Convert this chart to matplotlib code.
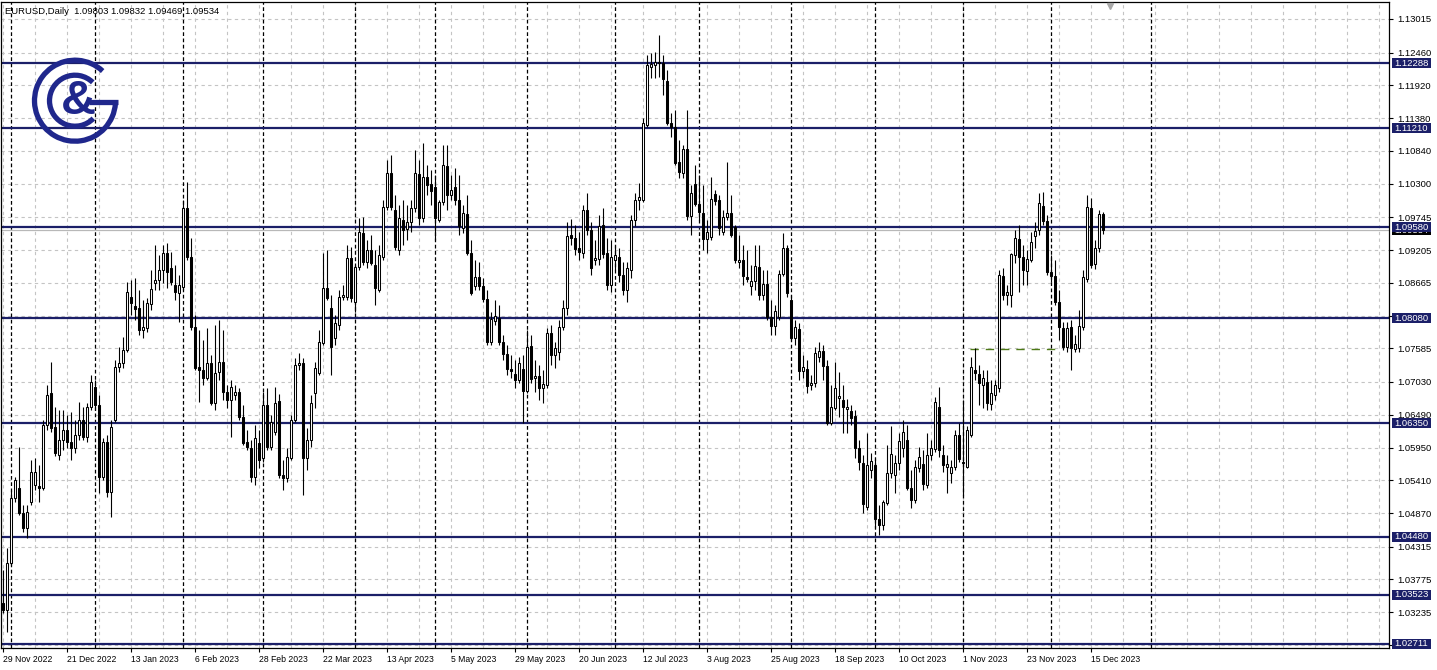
import matplotlib
matplotlib.use('Agg')
import matplotlib.pyplot as plt
import matplotlib.transforms as mtransforms
from matplotlib.patches import Rectangle, Arc
import numpy as np

plt.rcParams['font.family'] = ['Liberation Sans', 'DejaVu Sans']

# ---------------- data (EURUSD daily) ----------------
opens = [
1.0339, 1.0327, 1.0405, 1.0512, 1.0528, 1.0487, 1.0462, 1.0505, 1.0533, 1.0532,
1.0528, 1.0632, 1.0685, 1.0629, 1.0583, 1.0607, 1.0624, 1.0604, 1.0594, 1.0616,
1.0640, 1.0612, 1.0662, 1.0695, 1.0665, 1.0546, 1.0604, 1.0522, 1.0640, 1.0728,
1.0734, 1.0756, 1.0843, 1.0828, 1.0825, 1.0789, 1.0792, 1.0832, 1.0866, 1.0871,
1.0888, 1.0916, 1.0891, 1.0863, 1.0850, 1.0860, 1.0990, 1.0909, 1.0794, 1.0728,
1.0723, 1.0710, 1.0734, 1.0668, 1.0720, 1.0736, 1.0686, 1.0673, 1.0682, 1.0686,
1.0645, 1.0604, 1.0594, 1.0546, 1.0602, 1.0578, 1.0665, 1.0596, 1.0621, 1.0671,
1.0550, 1.0545, 1.0578, 1.0640, 1.0731, 1.0734, 1.0578, 1.0607, 1.0685, 1.0718,
1.0767, 1.0858, 1.0825, 1.0776, 1.0797, 1.0843, 1.0843, 1.0907, 1.0835, 1.0893,
1.0949, 1.0901, 1.0921, 1.0896, 1.0855, 1.0909, 1.0992, 1.1047, 1.0987, 1.0921,
1.0970, 1.0955, 1.0967, 1.0990, 1.1046, 1.0973, 1.1041, 1.1029, 1.1024, 1.0970,
1.1000, 1.1059, 1.1011, 1.1024, 1.1003, 1.0957, 1.0980, 1.0916, 1.0861, 1.0876,
1.0861, 1.0840, 1.0769, 1.0804, 1.0808, 1.0769, 1.0749, 1.0724, 1.0716, 1.0706,
1.0724, 1.0688, 1.0762, 1.0710, 1.0713, 1.0693, 1.0698, 1.0784, 1.0747, 1.0752,
1.0794, 1.0825, 1.0945, 1.0940, 1.0924, 1.0916, 1.0987, 1.0954, 1.0904, 1.0906,
1.0962, 1.0916, 1.0863, 1.0904, 1.0909, 1.0879, 1.0855, 1.0888, 1.0970, 1.1003,
1.1003, 1.1127, 1.1222, 1.1226, 1.1231, 1.1229, 1.1199, 1.1130, 1.1124, 1.1066,
1.1047, 1.1087, 1.0977, 1.1029, 1.0997, 1.0981, 1.0939, 1.0942, 1.1013, 1.1003,
1.0950, 1.0975, 1.0981, 1.0958, 1.0901, 1.0904, 1.0876, 1.0861, 1.0869, 1.0893,
1.0846, 1.0865, 1.0810, 1.0795, 1.0810, 1.0881, 1.0924, 1.0838, 1.0776, 1.0791,
1.0721, 1.0724, 1.0698, 1.0701, 1.0744, 1.0754, 1.0729, 1.0635, 1.0660, 1.0677,
1.0673, 1.0659, 1.0655, 1.0647, 1.0594, 1.0569, 1.0497, 1.0558, 1.0566, 1.0477,
1.0467, 1.0503, 1.0553, 1.0550, 1.0570, 1.0594, 1.0607, 1.0528, 1.0508, 1.0561,
1.0568, 1.0533, 1.0583, 1.0593, 1.0662, 1.0583, 1.0563, 1.0553, 1.0563, 1.0616,
1.0571, 1.0563, 1.0616, 1.0723, 1.0716, 1.0698, 1.0703, 1.0667, 1.0682, 1.0693,
1.0878, 1.0846, 1.0846, 1.0912, 1.0939, 1.0909, 1.0886, 1.0904, 1.0944, 1.0954,
1.0993, 1.0968, 1.0884, 1.0878, 1.0835, 1.0792, 1.0761, 1.0794, 1.0757, 1.0759,
1.0794, 1.0873, 1.0990, 1.0897, 1.0924, 1.09803]

highs = [
1.0393, 1.0429, 1.0525, 1.0546, 1.0596, 1.0500, 1.0500, 1.0574, 1.0578, 1.0566,
1.0640, 1.0698, 1.0736, 1.0662, 1.0657, 1.0657, 1.0649, 1.0654, 1.0640, 1.0670,
1.0662, 1.0668, 1.0715, 1.0706, 1.0682, 1.0611, 1.0616, 1.0640, 1.0739, 1.0761,
1.0777, 1.0868, 1.0871, 1.0874, 1.0855, 1.0838, 1.0842, 1.0888, 1.0929, 1.0912,
1.0929, 1.0932, 1.0917, 1.0896, 1.0879, 1.1003, 1.1033, 1.0940, 1.0813, 1.0789,
1.0772, 1.0792, 1.0747, 1.0797, 1.0805, 1.0789, 1.0698, 1.0706, 1.0698, 1.0693,
1.0665, 1.0624, 1.0607, 1.0632, 1.0624, 1.0686, 1.0693, 1.0649, 1.0695, 1.0684,
1.0574, 1.0594, 1.0649, 1.0742, 1.0751, 1.0742, 1.0627, 1.0682, 1.0736, 1.0789,
1.0916, 1.0921, 1.0846, 1.0813, 1.0855, 1.0863, 1.0929, 1.0926, 1.0896, 1.0973,
1.0975, 1.0937, 1.0945, 1.0921, 1.0929, 1.1003, 1.1069, 1.1077, 1.1011, 1.0995,
1.1003, 1.0995, 1.1003, 1.1086, 1.1069, 1.1097, 1.1061, 1.1053, 1.1044, 1.1003,
1.1094, 1.1094, 1.1044, 1.1056, 1.1044, 1.0995, 1.1011, 1.0937, 1.0904, 1.0901,
1.0874, 1.0855, 1.0818, 1.0838, 1.0830, 1.0780, 1.0764, 1.0747, 1.0739, 1.0744,
1.0747, 1.0789, 1.0780, 1.0739, 1.0731, 1.0723, 1.0792, 1.0797, 1.0769, 1.0805,
1.0838, 1.0967, 1.0972, 1.0962, 1.0950, 1.0995, 1.1015, 1.0967, 1.0937, 1.0978,
1.0990, 1.0940, 1.0937, 1.0929, 1.0924, 1.0901, 1.0901, 1.0978, 1.1015, 1.1031,
1.1138, 1.1242, 1.1245, 1.1247, 1.1275, 1.1242, 1.1217, 1.1147, 1.1151, 1.1102,
1.1094, 1.1151, 1.1028, 1.1061, 1.1044, 1.1028, 1.0970, 1.1041, 1.1020, 1.1011,
1.0987, 1.1066, 1.1011, 1.0962, 1.0945, 1.0929, 1.0921, 1.0896, 1.0929, 1.0929,
1.0888, 1.0888, 1.0838, 1.0830, 1.0888, 1.0948, 1.0929, 1.0846, 1.0805, 1.0800,
1.0747, 1.0739, 1.0715, 1.0761, 1.0769, 1.0764, 1.0739, 1.0698, 1.0736, 1.0720,
1.0698, 1.0675, 1.0665, 1.0657, 1.0607, 1.0583, 1.0619, 1.0586, 1.0578, 1.0500,
1.0508, 1.0599, 1.0630, 1.0583, 1.0619, 1.0640, 1.0632, 1.0558, 1.0574, 1.0596,
1.0591, 1.0619, 1.0607, 1.0678, 1.0695, 1.0599, 1.0583, 1.0574, 1.0624, 1.0636,
1.0673, 1.0630, 1.0744, 1.0759, 1.0731, 1.0723, 1.0723, 1.0706, 1.0706, 1.0888,
1.0891, 1.0863, 1.0916, 1.0954, 1.0962, 1.0929, 1.0921, 1.0950, 1.0967, 1.1015,
1.1016, 1.0978, 1.0912, 1.0904, 1.0855, 1.0802, 1.0802, 1.0805, 1.0780, 1.0822,
1.0888, 1.1011, 1.1006, 1.0937, 1.0987, 1.09832]

lows = [
1.0322, 1.0291, 1.0401, 1.0505, 1.0484, 1.0456, 1.0446, 1.0500, 1.0525, 1.0505,
1.0525, 1.0624, 1.0621, 1.0581, 1.0574, 1.0591, 1.0594, 1.0574, 1.0586, 1.0607,
1.0607, 1.0604, 1.0657, 1.0657, 1.0520, 1.0541, 1.0513, 1.0480, 1.0637, 1.0720,
1.0726, 1.0752, 1.0813, 1.0805, 1.0780, 1.0776, 1.0786, 1.0822, 1.0855, 1.0855,
1.0866, 1.0858, 1.0863, 1.0838, 1.0802, 1.0855, 1.0904, 1.0789, 1.0723, 1.0670,
1.0698, 1.0706, 1.0665, 1.0657, 1.0706, 1.0673, 1.0660, 1.0612, 1.0673, 1.0640,
1.0599, 1.0591, 1.0538, 1.0533, 1.0561, 1.0571, 1.0591, 1.0591, 1.0616, 1.0545,
1.0525, 1.0538, 1.0574, 1.0637, 1.0723, 1.0517, 1.0558, 1.0596, 1.0660, 1.0715,
1.0764, 1.0838, 1.0715, 1.0764, 1.0789, 1.0838, 1.0838, 1.0835, 1.0818, 1.0888,
1.0896, 1.0891, 1.0896, 1.0830, 1.0851, 1.0904, 1.0987, 1.0987, 1.0921, 1.0912,
1.0929, 1.0937, 1.0950, 1.0983, 1.0962, 1.0967, 1.1011, 1.0995, 1.0937, 1.0967,
1.0995, 1.0987, 1.1003, 1.0995, 1.0945, 1.0949, 1.0912, 1.0846, 1.0855, 1.0855,
1.0835, 1.0764, 1.0764, 1.0797, 1.0764, 1.0739, 1.0715, 1.0710, 1.0693, 1.0701,
1.0635, 1.0685, 1.0701, 1.0686, 1.0673, 1.0668, 1.0693, 1.0731, 1.0726, 1.0739,
1.0789, 1.0813, 1.0929, 1.0912, 1.0904, 1.0907, 1.0945, 1.0879, 1.0896, 1.0896,
1.0907, 1.0855, 1.0851, 1.0888, 1.0868, 1.0846, 1.0835, 1.0874, 1.0960, 1.0987,
1.1000, 1.1123, 1.1204, 1.1204, 1.1206, 1.1176, 1.1127, 1.1107, 1.1060, 1.1039,
1.1039, 1.0970, 1.0945, 1.0993, 1.0970, 1.0921, 1.0916, 1.0937, 1.0995, 1.0945,
1.0945, 1.0970, 1.0942, 1.0899, 1.0891, 1.0863, 1.0868, 1.0846, 1.0855, 1.0838,
1.0838, 1.0805, 1.0780, 1.0780, 1.0805, 1.0877, 1.0843, 1.0772, 1.0764, 1.0706,
1.0710, 1.0685, 1.0690, 1.0695, 1.0736, 1.0706, 1.0632, 1.0632, 1.0657, 1.0645,
1.0619, 1.0619, 1.0632, 1.0578, 1.0558, 1.0487, 1.0492, 1.0545, 1.0462, 1.0451,
1.0459, 1.0500, 1.0545, 1.0520, 1.0558, 1.0579, 1.0525, 1.0495, 1.0503, 1.0555,
1.0525, 1.0528, 1.0574, 1.0588, 1.0579, 1.0555, 1.0520, 1.0537, 1.0558, 1.0571,
1.0517, 1.0561, 1.0612, 1.0706, 1.0665, 1.0660, 1.0657, 1.0657, 1.0673, 1.0686,
1.0838, 1.0830, 1.0827, 1.0899, 1.0851, 1.0863, 1.0863, 1.0901, 1.0924, 1.0945,
1.0962, 1.0879, 1.0868, 1.0830, 1.0772, 1.0756, 1.0752, 1.0723, 1.0752, 1.0752,
1.0789, 1.0868, 1.0891, 1.0889, 1.0917, 1.09469]

closes = [
1.0327, 1.0405, 1.0512, 1.0541, 1.0487, 1.0462, 1.0489, 1.0555, 1.0555, 1.0528,
1.0632, 1.0682, 1.0627, 1.0586, 1.0607, 1.0624, 1.0604, 1.0594, 1.0616, 1.0640,
1.0612, 1.0662, 1.0703, 1.0665, 1.0546, 1.0604, 1.0522, 1.0629, 1.0728, 1.0734,
1.0756, 1.0851, 1.0833, 1.0823, 1.0789, 1.0794, 1.0833, 1.0856, 1.0871, 1.0888,
1.0916, 1.0884, 1.0868, 1.0851, 1.0863, 1.0990, 1.0909, 1.0794, 1.0726, 1.0723,
1.0710, 1.0734, 1.0668, 1.0718, 1.0736, 1.0686, 1.0673, 1.0695, 1.0686, 1.0645,
1.0602, 1.0596, 1.0546, 1.0611, 1.0574, 1.0665, 1.0596, 1.0637, 1.0668, 1.0550,
1.0545, 1.0579, 1.0640, 1.0731, 1.0734, 1.0578, 1.0607, 1.0668, 1.0726, 1.0769,
1.0858, 1.0842, 1.0761, 1.0800, 1.0843, 1.0846, 1.0907, 1.0842, 1.0893, 1.0950,
1.0901, 1.0921, 1.0899, 1.0858, 1.0912, 1.0992, 1.1047, 1.0992, 1.0925, 1.0973,
1.0954, 1.0967, 1.0990, 1.1047, 1.0973, 1.1041, 1.1028, 1.1018, 1.0973, 1.1000,
1.1061, 1.1011, 1.1020, 1.1003, 1.0960, 1.0981, 1.0916, 1.0850, 1.0876, 1.0861,
1.0840, 1.0769, 1.0807, 1.0812, 1.0769, 1.0749, 1.0724, 1.0721, 1.0706, 1.0734,
1.0688, 1.0761, 1.0708, 1.0713, 1.0693, 1.0700, 1.0784, 1.0747, 1.0759, 1.0794,
1.0825, 1.0944, 1.0940, 1.0922, 1.0917, 1.0987, 1.0954, 1.0891, 1.0907, 1.0960,
1.0914, 1.0863, 1.0909, 1.0912, 1.0879, 1.0855, 1.0891, 1.0970, 1.1003, 1.1008,
1.1130, 1.1226, 1.1227, 1.1231, 1.1229, 1.1203, 1.1130, 1.1124, 1.1064, 1.1049,
1.1087, 1.0977, 1.1015, 1.0997, 1.0983, 1.0939, 1.0950, 1.1005, 1.1001, 1.0957,
1.0975, 1.0981, 1.0945, 1.0904, 1.0904, 1.0878, 1.0873, 1.0869, 1.0894, 1.0846,
1.0865, 1.0810, 1.0795, 1.0820, 1.0881, 1.0924, 1.0850, 1.0776, 1.0794, 1.0721,
1.0728, 1.0696, 1.0701, 1.0751, 1.0754, 1.0729, 1.0635, 1.0662, 1.0693, 1.0680,
1.0662, 1.0662, 1.0644, 1.0594, 1.0571, 1.0502, 1.0566, 1.0573, 1.0477, 1.0467,
1.0505, 1.0553, 1.0584, 1.0570, 1.0606, 1.0621, 1.0528, 1.0508, 1.0563, 1.0579,
1.0535, 1.0583, 1.0594, 1.0670, 1.0591, 1.0566, 1.0568, 1.0563, 1.0616, 1.0576,
1.0569, 1.0624, 1.0728, 1.0718, 1.0701, 1.0710, 1.0668, 1.0685, 1.0698, 1.0879,
1.0846, 1.0851, 1.0914, 1.0940, 1.0909, 1.0888, 1.0906, 1.0934, 1.0952, 1.0998,
1.0968, 1.0884, 1.0878, 1.0835, 1.0794, 1.0761, 1.0792, 1.0759, 1.0766, 1.0795,
1.0876, 1.0992, 1.0896, 1.0924, 1.0980, 1.09534]

assert len(opens) == len(highs) == len(lows) == len(closes)

date_labels = ['29 Nov 2022', '21 Dec 2022', '13 Jan 2023', '6 Feb 2023', '28 Feb 2023',
               '22 Mar 2023', '13 Apr 2023', '5 May 2023', '29 May 2023', '20 Jun 2023',
               '12 Jul 2023', '3 Aug 2023', '25 Aug 2023', '18 Sep 2023', '10 Oct 2023',
               '1 Nov 2023', '23 Nov 2023', '15 Dec 2023']
label_bars = list(range(0, 16 * len(date_labels), 16))

month_start_bars = [2, 23, 45, 65, 88, 108, 131, 153, 174, 197, 218, 240, 262, 287]

grid_prices = [1.13015, 1.12460, 1.11920, 1.11380, 1.10840, 1.10300, 1.09745, 1.09205,
               1.08665, 1.08125, 1.07585, 1.07030, 1.06490, 1.05950, 1.05410, 1.04870,
               1.04315, 1.03775, 1.03235, 1.02695]
hidden_tick_labels = [1.08125, 1.02695]

levels = [1.12288, 1.11210, 1.09580, 1.08080, 1.06350, 1.04480, 1.03523, 1.02711]
current_price = 1.09534
trend_price = 1.0757
trend_start_bar, trend_end_bar = 241.8, 264.3

header = "EURUSD,Daily  1.09803 1.09832 1.09469 1.09534"

# ---------------- figure ----------------
W, H = 1437, 670
fig = plt.figure(figsize=(W / 100, H / 100), dpi=100)
fig.patch.set_facecolor('white')

ax_left, ax_right, ax_top, ax_bottom = 1, 1389, 2, 648
ax = fig.add_axes([ax_left / W, (H - ax_bottom) / H,
                   (ax_right - ax_left) / W, (ax_bottom - ax_top) / H])
ax.set_facecolor('white')

ymin, ymax = 1.026444, 1.13295
ax.set_ylim(ymin, ymax)
ax.set_xlim(-0.43, 346.6)
px_price = (ymax - ymin) / (ax_bottom - ax_top)
px_axes_x = 1.0 / (ax_right - ax_left)

GRID_C = '#c4c4c4'
for p in grid_prices:
    ax.axhline(p, color=GRID_C, lw=0.8, ls=(0, (3, 3)), zorder=1)
for b in range(0, 347, 8):
    ax.axvline(b, color=GRID_C, lw=0.8, ls=(0, (3, 3)), zorder=1)
for b in month_start_bars:
    ax.axvline(b, color='black', lw=0.9, ls=(0, (3, 2)), zorder=1.5)

LEVEL_C = '#1b1f68'
for lv in levels:
    ax.axhline(lv, color=LEVEL_C, lw=1.6, zorder=2)
ax.axhline(current_price, color='#b8b8b8', lw=0.9, zorder=1.8)

ax.hlines(trend_price, trend_start_bar, trend_end_bar, colors='#4d7a16',
          linestyles=(0, (6, 5)), lw=1.0, zorder=2.2)

# candles
o = np.array(opens); c = np.array(closes); h = np.array(highs); l = np.array(lows)
x = np.arange(len(c))
up = c >= o
ax.vlines(x, l, h, color='black', lw=0.8, zorder=3)
bot = np.minimum(o, c)
hgt = np.abs(c - o)
ax.bar(x[up], hgt[up], bottom=bot[up], width=0.52, color='white',
       edgecolor='black', linewidth=0.75, zorder=4)
ax.bar(x[~up], hgt[~up], bottom=bot[~up], width=0.52, color='black',
       edgecolor='black', linewidth=0.75, zorder=4)

for s in ax.spines.values():
    s.set_color('black')
    s.set_linewidth(0.9)

ax.yaxis.tick_right()
ax.set_yticks(grid_prices)
ax.set_yticklabels(['' if p in hidden_tick_labels else f'{p:.5f}' for p in grid_prices])
ax.tick_params(axis='y', length=3, width=0.8, pad=3, labelsize=6.8, colors='black')

ax.set_xticks(label_bars)
ax.set_xticklabels(date_labels)
ax.tick_params(axis='x', length=3, width=0.8, pad=2, labelsize=6.2, colors='black')
for t in ax.get_xticklabels():
    t.set_ha('left')

blend = mtransforms.blended_transform_factory(ax.transAxes, ax.transData)
box_x = 1 + 3 * px_axes_x
box_w = 39 * px_axes_x
box_h = 10 * px_price


def price_box(price, fc, z):
    ax.add_patch(Rectangle((box_x, price - box_h / 2), box_w, box_h, transform=blend,
                           facecolor=fc, edgecolor='none', clip_on=False, zorder=z))
    ax.text(box_x + 2 * px_axes_x, price, f'{price:.5f}', transform=blend, color='white',
            fontsize=6.8, ha='left', va='center', clip_on=False, zorder=z + 0.1)


price_box(current_price, 'black', 8)
for lv in levels:
    price_box(lv, LEVEL_C, 9)

# shift marker
ax.plot([276.8], [0.994], marker='v', ms=5, color='#a8a8a8',
        transform=mtransforms.blended_transform_factory(ax.transData, ax.transAxes),
        clip_on=False, zorder=6)

fig.text(5 / W, 1 - 12 / H, header, fontsize=6.8, va='center', ha='left', color='black')

# logo
LOGO_C = '#1f278c'
lax = fig.add_axes([25 / W, (H - 150) / H, 100 / W, 100 / H])
lax.set_xlim(0, 100); lax.set_ylim(0, 100)
lax.set_aspect('equal')
lax.axis('off')
lax.patch.set_alpha(0)
cx, cy = 50, 49.3
lax.add_patch(Arc((cx, cy), 81, 81, theta1=47, theta2=356, lw=3.8, color=LOGO_C))
lax.plot([64, 93], [48, 48], color=LOGO_C, lw=3.8, solid_capstyle='butt')
lax.add_patch(Arc((cx, cy), 51, 51, theta1=46, theta2=316, lw=3.8, color=LOGO_C))
lax.text(53, 49, '&', fontsize=35, fontweight='bold', color=LOGO_C,
         ha='center', va='center', family='Liberation Sans')

fig.savefig('out.png', dpi=100, facecolor='white')
